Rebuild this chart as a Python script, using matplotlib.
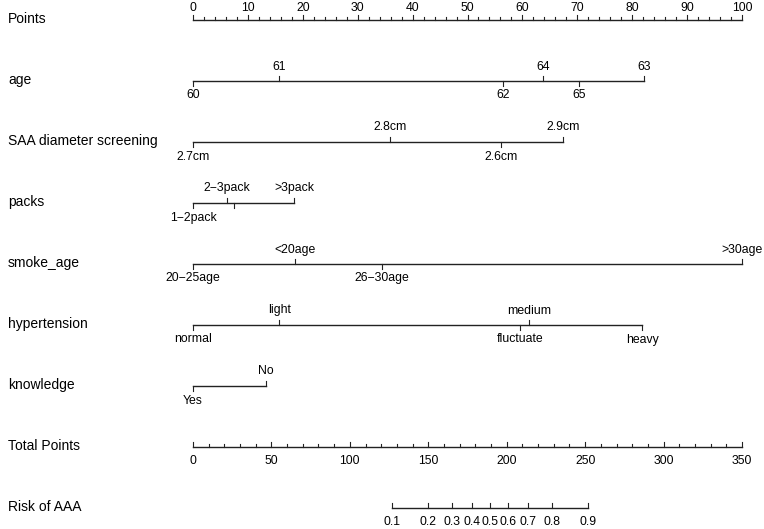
import numpy as np
import matplotlib.pyplot as plt

plt.rcParams['font.family'] = ['Liberation Sans', 'DejaVu Sans']

# nomogram rows (in "points")
row_names = ["Points", "age", "SAA diameter screening", "packs", "smoke_age",
             "hypertension", "knowledge", "Total Points", "Risk of AAA"]

age_levels = ["60", "61", "62", "64", "65", "63"]
age_points = [0, 15.7, 56.5, 63.8, 70.3, 82.1]

saa_levels = ["2.7cm", "2.8cm", "2.6cm", "2.9cm"]
saa_points = [0, 35.9, 56.1, 67.4]

packs_levels = ["1\u22122pack", "2\u22123pack", "", ">3pack"]
packs_points = [0, 6.2, 7.5, 18.4]

smoke_levels = ["20\u221225age", "<20age", "26\u221230age", ">30age"]
smoke_points = [0, 18.6, 34.4, 100]

hyper_levels = ["normal", "light", "fluctuate", "medium", "heavy"]
hyper_points = [0, 15.7, 59.6, 61.2, 81.8]

know_levels = ["Yes", "No"]
know_points = [0, 13.3]

total_max = 350
risk_ticks = [0.1, 0.2, 0.3, 0.4, 0.5, 0.6, 0.7, 0.8, 0.9]
risk_intercept = 189.4   # total points where risk = 0.5
risk_slope = 28.4        # total points per logit unit

variables = [(age_levels, age_points), (saa_levels, saa_points),
             (packs_levels, packs_points), (smoke_levels, smoke_points),
             (hyper_levels, hyper_points), (know_levels, know_points)]

fig = plt.figure(figsize=(7.64, 5.29), dpi=100)
ax = fig.add_axes([0, 0, 1, 1])
px = 100 / 549.0
ax.set_xlim(-193 * px, (764 - 193) * px)
ax.set_ylim(529, 0)
ax.axis("off")

row_y = [20 + 61 * i for i in range(len(row_names))]
lc = "#222222"
fs_row = 10
fs_tick = 8.8

for name, y in zip(row_names, row_y):
    ax.text(-193 * px + 8 * px, y - 1, name, ha="left", va="center", fontsize=fs_row)

# Points scale
y = row_y[0]
ax.plot([0, 100], [y, y], color=lc, lw=1)
for v in range(0, 101, 2):
    h = 5 if v % 10 == 0 else 3
    ax.plot([v, v], [y, y - h], color=lc, lw=0.8)
for v in range(0, 101, 10):
    ax.text(v, y - 12, str(v), ha="center", va="center", fontsize=fs_tick)

# variable rows
for (levels, pts), y in zip(variables, row_y[1:7]):
    ax.plot([min(pts), max(pts)], [y, y], color=lc, lw=1)
    order = np.argsort(pts)
    for k, i in enumerate(order):
        s = 1 if k % 2 == 0 else -1   # below, then above
        ax.plot([pts[i], pts[i]], [y, y + 5 * s], color=lc, lw=0.8)
        ax.text(pts[i], y + 14.5 * s, levels[i], ha="center", va="center", fontsize=fs_tick)

# Total points scale
y = row_y[7]
sc = 100 / total_max
ax.plot([0, total_max * sc], [y, y], color=lc, lw=1)
for v in range(0, total_max + 1, 10):
    h = 5 if v % 50 == 0 else 3
    ax.plot([v * sc, v * sc], [y, y - h], color=lc, lw=0.8)
for v in range(0, total_max + 1, 50):
    ax.text(v * sc, y + 14, str(v), ha="center", va="center", fontsize=fs_tick)

# Risk scale
y = row_y[8]
rp = np.array(risk_ticks)
tp = risk_intercept + risk_slope * np.log(rp / (1 - rp))
ax.plot([tp[0] * sc, tp[-1] * sc], [y, y], color=lc, lw=1)
for p, t in zip(risk_ticks, tp):
    ax.plot([t * sc, t * sc], [y, y - 5], color=lc, lw=0.8)
    ax.text(t * sc, y + 14, f"{p:g}", ha="center", va="center", fontsize=fs_tick)

fig.savefig("out.png", dpi=100)
